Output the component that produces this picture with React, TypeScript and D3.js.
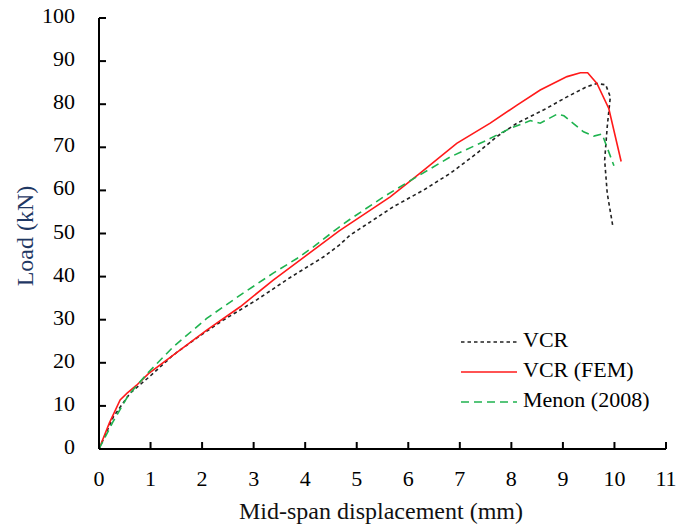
import React from "react";
import * as d3 from "d3";

// mid-span displacement (mm) vs load (kN)
const vcrX = [0, 0.28, 0.6, 1.0, 1.44, 1.9, 2.41, 3.06, 3.71, 4.36, 4.66, 4.87, 5.71, 6.3, 6.82, 7.33, 7.72, 8.11, 8.63, 9.08, 9.47, 9.66, 9.83, 9.92, 9.86, 9.81, 9.86, 9.97];
const vcrY = [0, 7.5, 12.9, 17, 21.8, 25.8, 29.9, 34.6, 39.8, 44.6, 47.3, 49.6, 56.2, 60.1, 64, 68.6, 72.5, 75.6, 78.7, 81.7, 84.1, 84.8, 84.5, 81.7, 74.8, 67, 59.3, 51.6];

const femX = [0, 0.2, 0.41, 0.54, 0.73, 0.96, 1.44, 2.09, 2.74, 3.38, 4.03, 4.66, 5.65, 6.23, 6.94, 7.59, 8.11, 8.56, 9.08, 9.34, 9.48, 9.66, 9.89, 10.13];
const femY = [0, 6, 11.4, 12.9, 14.8, 17.5, 21.8, 27.6, 33, 39.2, 45, 50.6, 58.5, 64, 70.9, 75.6, 79.8, 83.3, 86.4, 87.3, 87.3, 84.8, 79, 66.7];

const menonX = [0, 0.28, 0.57, 0.96, 1.44, 2.09, 2.74, 3.38, 3.84, 4.16, 4.66, 4.87, 5.52, 6.17, 6.82, 7.46, 7.98, 8.37, 8.56, 8.89, 9.02, 9.4, 9.6, 9.76, 9.99];
const menonY = [0, 6.5, 12.5, 17.8, 23.7, 30.3, 35.7, 40.8, 44.2, 46.9, 51.5, 53.3, 58.5, 63.2, 67.8, 71.3, 74.4, 76.2, 75.6, 77.7, 77.3, 73.6, 72.6, 73.1, 65.7];

const xTicks = d3.range(0, 12);
const yTicks = d3.range(0, 101, 10);

const seriesNames = ["VCR", "VCR (FEM)", "Menon (2008)"];
const seriesColors = ["#222222", "#ff1a1a", "#1fb34f"];
const seriesDash = ["3.5,3", "none", "8,5"];

const txt: React.CSSProperties = {
  fontFamily: "'Times New Roman', 'Liberation Serif', Tinos, 'DejaVu Serif', 'Noto Serif', serif",
};

export default function App() {
  const x = d3.scaleLinear().domain([0, 11]).range([99, 666]);
  const y = d3.scaleLinear().domain([0, 100]).range([449, 18]);

  const line = d3
    .line<[number, number]>()
    .x((d) => x(d[0]))
    .y((d) => y(d[1]));

  const zip = (a: number[], b: number[]) => a.map((v, i) => [v, b[i]] as [number, number]);
  const series = [zip(vcrX, vcrY), zip(femX, femY), zip(menonX, menonY)];

  return (
    <svg
      width={679}
      height={529}
      style={{ position: "absolute", left: 0, top: 0, background: "#fff" }}
    >
      {/* curves */}
      {series.map((s, i) => (
        <path
          key={seriesNames[i]}
          d={line(s) || ""}
          fill="none"
          stroke={seriesColors[i]}
          strokeWidth={1.6}
          strokeDasharray={seriesDash[i]}
        />
      ))}

      {/* axes */}
      <line x1={x(0)} x2={x(11)} y1={y(0)} y2={y(0)} stroke="#000" strokeWidth={2} />
      <line x1={x(0)} x2={x(0)} y1={y(0)} y2={y(100)} stroke="#000" strokeWidth={2} />
      {xTicks.map((t) => (
        <g key={"x" + t}>
          <line x1={x(t)} x2={x(t)} y1={y(0)} y2={y(0) - 7} stroke="#000" strokeWidth={2} />
          <text x={x(t)} y={481} textAnchor="middle" dominantBaseline="middle" fontSize={22} fill="#000" style={txt}>
            {t}
          </text>
        </g>
      ))}
      {yTicks.map((t) => (
        <g key={"y" + t}>
          <line x1={x(0)} x2={x(0) + 7} y1={y(t)} y2={y(t)} stroke="#000" strokeWidth={2} />
          <text x={75} y={y(t)} textAnchor="end" dominantBaseline="middle" fontSize={22} fill="#000" style={txt}>
            {t}
          </text>
        </g>
      ))}

      {/* axis titles */}
      <text x={381} y={519} textAnchor="middle" fontSize={24} fill="#111" style={txt}>
        Mid-span displacement (mm)
      </text>
      <text
        transform="translate(27,236) rotate(-90)"
        textAnchor="middle"
        dominantBaseline="middle"
        fontSize={24}
        fill="#1f3864"
        style={txt}
      >
        Load (kN)
      </text>

      {/* legend */}
      {seriesNames.map((n, i) => (
        <g key={"leg" + n} transform={`translate(0,${342 + i * 30})`}>
          <line
            x1={461}
            x2={517}
            y1={0}
            y2={0}
            stroke={seriesColors[i]}
            strokeWidth={1.6}
            strokeDasharray={seriesDash[i]}
          />
          <text x={523} y={0} dominantBaseline="middle" fontSize={22} fill="#000" style={txt}>
            {n}
          </text>
        </g>
      ))}
    </svg>
  );
}
